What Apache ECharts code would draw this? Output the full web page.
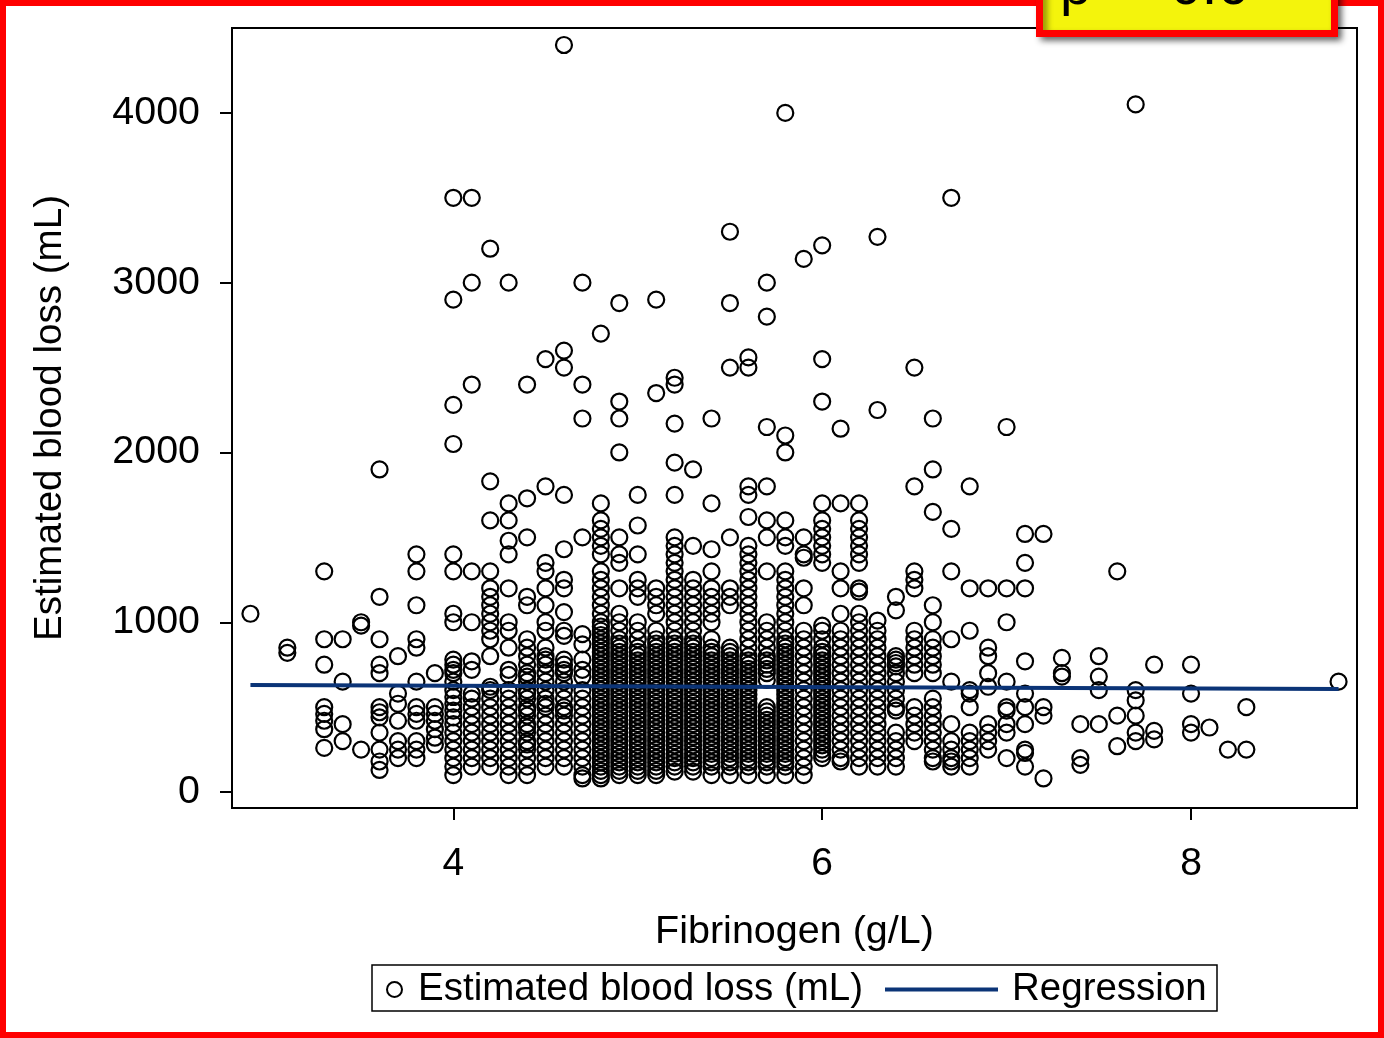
<!DOCTYPE html>
<html>
<head>
<meta charset="utf-8">
<script src="https://cdn.jsdelivr.net/npm/echarts@6/dist/echarts.min.js"></script>
<style>
html,body{margin:0;padding:0;background:#fff;}
#chart{width:1384px;height:1038px;}
</style>
</head>
<body>
<div id="chart"></div>
<script>
// ---- Data ----
const fibrinogenLevels = [2.9, 3.1, 3.3, 3.4, 3.5, 3.6, 3.7, 3.8, 3.9, 4.0, 4.1, 4.2, 4.3, 4.4, 4.5, 4.6, 4.7, 4.8, 4.9, 5.0, 5.1, 5.2, 5.3, 5.4, 5.5, 5.6, 5.7, 5.8, 5.9, 6.0, 6.1, 6.2, 6.3, 6.4, 6.5, 6.6, 6.7, 6.8, 6.9, 7.0, 7.1, 7.2, 7.3, 7.4, 7.5, 7.6, 7.7, 7.8, 8.0, 8.1, 8.2, 8.3, 8.8];

const bloodLossByLevel = [
  [1050],
  [850, 820],
  [1300, 900, 750, 500, 460, 420, 370, 260],
  [900, 650, 400, 300],
  [1000, 980, 250],
  [1900, 1150, 900, 750, 700, 500, 470, 440, 350, 250, 180, 130],
  [800, 580, 520, 420, 300, 250, 200],
  [1400, 1300, 1100, 900, 850, 650, 500, 460, 420, 300, 250, 200],
  [700, 500, 460, 420, 370, 320, 280],
  [3500, 2900, 2280, 2050, 1400, 1300, 1050, 1000, 780, 750, 720, 700, 650, 600, 560, 520, 480, 440, 400, 350, 300, 250, 200, 150, 100],
  [3500, 3000, 2400, 1300, 1000, 770, 720, 580, 550, 500, 450, 400, 350, 300, 250, 200, 150],
  [3200, 1830, 1600, 1300, 1200, 1150, 1100, 1050, 1000, 950, 900, 800, 620, 600, 550, 500, 450, 400, 350, 300, 250, 200, 150],
  [3000, 1700, 1600, 1480, 1400, 1200, 1000, 950, 850, 720, 690, 600, 550, 500, 450, 400, 350, 300, 250, 200, 150, 100],
  [2400, 1730, 1500, 1150, 1100, 900, 850, 800, 750, 700, 680, 650, 600, 580, 550, 500, 480, 450, 400, 380, 350, 300, 280, 250, 200, 150, 100],
  [2550, 1800, 1350, 1300, 1200, 1100, 1000, 950, 850, 800, 780, 750, 700, 650, 600, 550, 520, 500, 450, 400, 350, 300, 250, 200, 150],
  [4400, 2600, 2500, 1750, 1430, 1250, 1200, 1060, 950, 920, 780, 750, 720, 700, 650, 600, 550, 500, 480, 450, 400, 350, 300, 250, 200, 150],
  [3000, 2400, 2200, 1500, 930, 870, 780, 720, 680, 600, 550, 500, 450, 400, 350, 300, 250, 200, 150, 100, 80],
  [2700, 1700, 1600, 1550, 1500, 1450, 1400, 1300, 1250, 1200, 1150, 1100, 1050, 1000, 975, 950, 925, 900, 875, 850, 825, 800, 775, 750, 725, 700, 675, 650, 625, 600, 575, 550, 525, 500, 475, 450, 425, 400, 375, 350, 325, 300, 275, 250, 225, 200, 175, 150, 125, 100, 80],
  [2880, 2300, 2200, 2000, 1500, 1400, 1350, 1200, 1050, 1000, 950, 900, 875, 850, 825, 800, 775, 750, 725, 700, 675, 650, 625, 600, 575, 550, 525, 500, 475, 450, 425, 400, 375, 350, 325, 300, 275, 250, 225, 200, 175, 150, 125, 100],
  [1750, 1570, 1400, 1250, 1200, 1150, 1000, 950, 900, 850, 825, 800, 775, 750, 725, 700, 675, 650, 625, 600, 575, 550, 525, 500, 475, 450, 425, 400, 375, 350, 325, 300, 275, 250, 225, 200, 175, 150, 125, 100],
  [2900, 2350, 1200, 1150, 1100, 1050, 950, 900, 875, 850, 825, 800, 775, 750, 725, 700, 675, 650, 625, 600, 575, 550, 525, 500, 475, 450, 425, 400, 375, 350, 325, 300, 275, 250, 225, 200, 175, 150, 125, 100],
  [2440, 2400, 2170, 1940, 1750, 1500, 1450, 1400, 1350, 1300, 1250, 1200, 1150, 1100, 1050, 1000, 950, 900, 875, 850, 825, 800, 775, 750, 725, 700, 675, 650, 625, 600, 575, 550, 525, 500, 475, 450, 425, 400, 375, 350, 325, 300, 275, 250, 225, 200, 175, 150, 120],
  [1900, 1450, 1250, 1200, 1150, 1100, 1050, 1000, 950, 900, 875, 850, 825, 800, 775, 750, 725, 700, 675, 650, 625, 600, 575, 550, 525, 500, 475, 450, 425, 400, 375, 350, 325, 300, 275, 250, 225, 200, 175, 150, 120],
  [2200, 1700, 1430, 1300, 1200, 1150, 1100, 1050, 1000, 900, 850, 825, 800, 775, 750, 725, 700, 675, 650, 625, 600, 575, 550, 525, 500, 475, 450, 425, 400, 375, 350, 325, 300, 275, 250, 225, 200, 175, 150, 100],
  [3300, 2880, 2500, 1500, 1200, 1150, 1100, 850, 825, 800, 775, 750, 725, 700, 675, 650, 625, 600, 575, 550, 525, 500, 475, 450, 425, 400, 375, 350, 325, 300, 275, 250, 225, 200, 175, 150, 100],
  [2560, 2500, 1800, 1750, 1620, 1450, 1400, 1350, 1300, 1250, 1200, 1150, 1100, 1050, 1000, 950, 900, 850, 800, 775, 750, 725, 700, 675, 650, 625, 600, 575, 550, 525, 500, 475, 450, 425, 400, 375, 350, 325, 300, 275, 250, 225, 200, 175, 150, 100],
  [3000, 2800, 2150, 1800, 1600, 1500, 1300, 1000, 950, 900, 850, 800, 775, 750, 725, 700, 660, 500, 475, 450, 425, 400, 375, 350, 325, 300, 275, 250, 225, 200, 175, 150, 100],
  [4000, 2100, 2000, 1600, 1500, 1450, 1300, 1250, 1200, 1150, 1100, 1050, 1000, 950, 900, 875, 850, 825, 800, 775, 750, 725, 700, 675, 650, 625, 600, 575, 550, 525, 500, 475, 450, 425, 400, 375, 350, 325, 300, 275, 250, 225, 200, 175, 150, 100],
  [3140, 1500, 1400, 1380, 1200, 1100, 950, 900, 850, 800, 750, 700, 650, 600, 550, 500, 450, 400, 350, 300, 250, 200, 150, 100],
  [3220, 2550, 2300, 1700, 1600, 1550, 1500, 1450, 1400, 1350, 980, 950, 900, 850, 825, 800, 775, 750, 725, 700, 675, 650, 625, 600, 575, 550, 525, 500, 475, 450, 425, 400, 375, 350, 325, 300, 275, 250, 225, 200],
  [2140, 1700, 1300, 1200, 1050, 950, 900, 850, 800, 750, 700, 650, 600, 550, 500, 450, 400, 350, 300, 250, 200, 180],
  [1700, 1600, 1550, 1500, 1450, 1400, 1350, 1200, 1180, 1050, 1000, 950, 900, 850, 800, 750, 700, 650, 600, 550, 500, 450, 400, 350, 300, 250, 200, 150],
  [3270, 2250, 1010, 950, 900, 850, 800, 750, 700, 650, 600, 550, 500, 450, 400, 350, 300, 250, 200, 150],
  [1150, 1070, 800, 780, 760, 740, 700, 650, 600, 550, 500, 480, 350, 300, 250, 200, 150],
  [2500, 1800, 1300, 1250, 1200, 950, 900, 850, 800, 750, 700, 500, 450, 400, 350, 300],
  [2200, 1900, 1650, 1100, 1000, 900, 850, 800, 750, 700, 550, 500, 450, 400, 350, 300, 250, 200, 180],
  [3500, 1550, 1300, 900, 650, 400, 300, 250, 200, 180, 150],
  [1800, 1200, 950, 600, 580, 500, 350, 300, 250, 200, 150],
  [1200, 850, 800, 700, 620, 400, 350, 300, 250],
  [2150, 1200, 1000, 650, 500, 480, 400, 350, 200],
  [1520, 1350, 1200, 770, 580, 500, 400, 250, 230, 150],
  [1520, 500, 450, 80],
  [790, 700, 680],
  [400, 200, 160],
  [800, 680, 600, 400],
  [1300, 450, 270],
  [4050, 600, 540, 450, 350, 300],
  [750, 360, 310],
  [750, 580, 400, 350],
  [380],
  [250],
  [500, 250],
  [650]
];

// Regression line end points (fibrinogen, blood loss)
const regressionX = [2.9, 8.8];
const regressionY = [630, 607];

const xTicks = [4, 6, 8];
const yTicks = [0, 1000, 2000, 3000, 4000];

const seriesNames = ['Estimated blood loss (mL)', 'Regression'];
const xTitle = 'Fibrinogen (g/L)';
const yTitle = 'Estimated blood loss (mL)';
const pLabel = 'p =  0.6';

// ---- Build ----
const scatterData = [];
fibrinogenLevels.forEach((fx, i) => {
  bloodLossByLevel[i].forEach(v => scatterData.push([fx, v]));
});
const regressionData = regressionX.map((x, i) => [x, regressionY[i]]);

const FONT = '"Liberation Sans", Arial, sans-serif';
const LINE_COLOR = '#0b3477';
const chart = echarts.init(document.getElementById('chart'), null, {renderer: 'canvas'});

chart.setOption({
  animation: false,
  backgroundColor: '#ffffff',
  textStyle: {fontFamily: FONT, color: '#000'},
  grid: {
    left: 232, top: 28, width: 1125, height: 780,
    show: true, borderColor: '#000', borderWidth: 2, backgroundColor: 'transparent'
  },
  xAxis: {
    type: 'value', min: 2.8, max: 8.9,
    name: xTitle, nameLocation: 'middle', nameGap: 104,
    nameTextStyle: {fontSize: 39.5, color: '#000', fontFamily: FONT},
    axisLine: {show: true, onZero: false, lineStyle: {color: '#000', width: 2}},
    axisTick: {show: true, length: 12, customValues: xTicks, lineStyle: {color: '#000', width: 2}},
    axisLabel: {customValues: xTicks, fontSize: 39, color: '#000', margin: 37, fontFamily: FONT,
      formatter: v => String(v)},
    splitLine: {show: false}
  },
  yAxis: {
    type: 'value', min: -94, max: 4500,
    name: yTitle, nameLocation: 'middle', nameGap: 162,
    nameTextStyle: {fontSize: 38.6, color: '#000', fontFamily: FONT},
    axisLine: {show: true, onZero: false, lineStyle: {color: '#000', width: 2}},
    axisTick: {show: true, length: 12, customValues: yTicks, lineStyle: {color: '#000', width: 2}},
    axisLabel: {customValues: yTicks, fontSize: 39.4, color: '#000', margin: 32, fontFamily: FONT,
      formatter: v => String(v)},
    splitLine: {show: false}
  },
  legend: [
    {
      data: [{name: seriesNames[0], icon: 'circle'}], left: 386, top: 970, padding: 0,
      itemWidth: 15, itemHeight: 15, selectedMode: false,
      itemStyle: {color: 'transparent', borderColor: '#000', borderWidth: 2},
      textStyle: {fontSize: 38.5, color: '#000', fontFamily: FONT, padding: [0, 0, 0, 11]}
    },
    {
      data: [{name: seriesNames[1], icon: 'rect'}], left: 885, top: 970, padding: 0,
      itemWidth: 113, itemHeight: 4, selectedMode: false,
      itemStyle: {color: LINE_COLOR, borderWidth: 0},
      textStyle: {fontSize: 38.5, color: '#000', fontFamily: FONT, padding: [0, 0, 0, 9]}
    }
  ],
  graphic: [
    {
      type: 'rect', z: -1, silent: true,
      shape: {x: 372, y: 965, width: 845, height: 46},
      style: {fill: '#fff', stroke: '#000', lineWidth: 1.5}
    },
    {
      type: 'rect', z: 200, silent: true,
      shape: {x: 3, y: 3, width: 1378, height: 1032},
      style: {fill: null, stroke: '#ff0000', lineWidth: 6}
    },
    {
      type: 'rect', z: 210, silent: true,
      shape: {x: 1039.5, y: -20, width: 295, height: 53.5},
      style: {fill: '#f4f40c', stroke: '#ff0000', lineWidth: 7,
        shadowBlur: 6, shadowOffsetX: 4, shadowOffsetY: 4, shadowColor: 'rgba(0,0,0,0.45)'}
    },
    {
      type: 'text', z: 220, silent: true,
      x: 1060, y: -11,
      style: {text: pLabel, font: '56px "Liberation Sans", Arial, sans-serif', fill: '#000',
        align: 'left', verticalAlign: 'middle'}
    }
  ],
  series: [
    {
      name: seriesNames[0], type: 'scatter', data: scatterData,
      symbol: 'circle', symbolSize: 16, progressive: 0, large: false, silent: true,
      itemStyle: {color: 'transparent', borderColor: '#000', borderWidth: 2.2, opacity: 1},
      emphasis: {disabled: true}, z: 2
    },
    {
      name: seriesNames[1], type: 'line', data: regressionData,
      symbol: 'none', silent: true,
      lineStyle: {color: LINE_COLOR, width: 4},
      itemStyle: {color: LINE_COLOR},
      emphasis: {disabled: true}, z: 5
    }
  ]
});
</script>
</body>
</html>
